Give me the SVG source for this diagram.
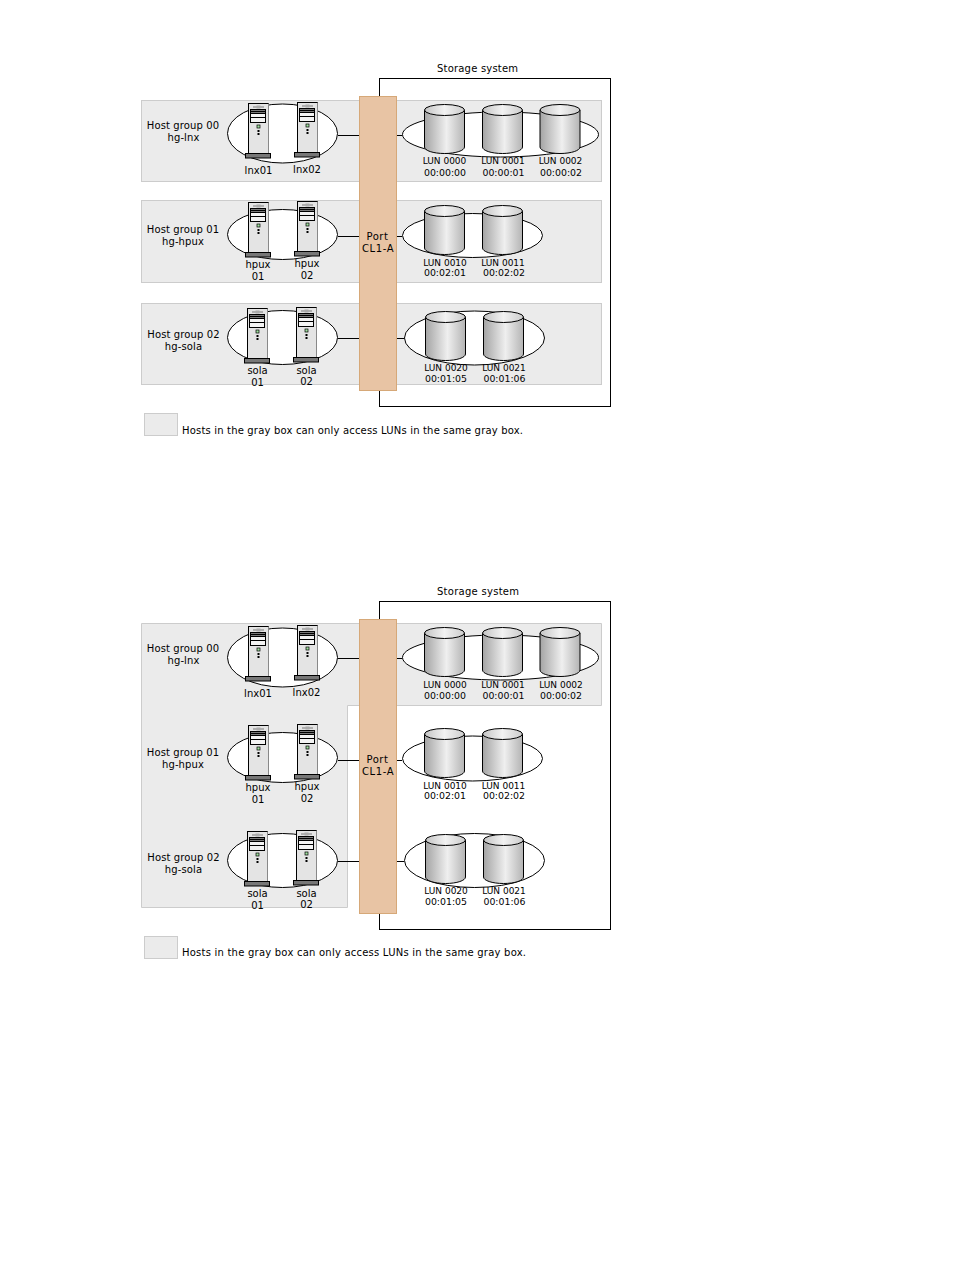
<svg xmlns="http://www.w3.org/2000/svg" width="954" height="1270" viewBox="0 0 954 1270">
<style>
text{font-family:"DejaVu Sans","Liberation Sans",sans-serif;font-size:10px;fill:#000;text-anchor:middle}
.l{text-anchor:start}
.h{letter-spacing:.12px}
.o{letter-spacing:.6px}
.s{font-size:9px}
.t{font-size:9.400px}
.g{fill:#ebebeb;stroke:#ccc;stroke-width:1}
.e{fill:#fff;stroke:#000;stroke-width:1}
.c{stroke:#000;stroke-width:1;fill:none}
.p{fill:#e8c4a4;stroke:#d6a878;stroke-width:1}
.b{fill:#fff;stroke:#000;stroke-width:1}
</style>
<defs>
<linearGradient id="cg" x1="0" x2="1" y1="0" y2="0"><stop offset="0" stop-color="#a4a4a4"/><stop offset=".55" stop-color="#efefef"/><stop offset="1" stop-color="#b4b4b4"/></linearGradient>
<linearGradient id="ct" x1="0" x2="1" y1="0" y2="0"><stop offset="0" stop-color="#c4c4c4"/><stop offset=".5" stop-color="#f2f2f2"/><stop offset="1" stop-color="#cccccc"/></linearGradient>
<symbol id="srv" overflow="visible" width="1" height="1">
<rect x="0.500" y="0.500" width="20" height="50" fill="#e4e4e4" stroke="#000"/>
<path d="M20.500 .5V50.500" stroke="#888" fill="none"/>
<path d="M5 4H16" stroke="#999" stroke-width="1.400"/><path d="M8.500 2.500H12.500V5.500H8.500Z" fill="#aaa"/>
<rect x="2.500" y="6.500" width="15" height="13" fill="#f4f4f4" stroke="#000"/>
<path d="M3 8.500H17" stroke="#000" stroke-width="2"/><path d="M2.500 10.500H17.500M2.500 14.500H17.500" stroke="#000"/>
<rect x="9" y="22" width="3" height="3" fill="#9fdf9f" stroke="#000" stroke-width=".7"/>
<rect x="9.500" y="27" width="2" height="2" fill="#000"/><rect x="9.500" y="30" width="2" height="2" fill="#000"/>
<rect x="-2.500" y="50.500" width="25" height="4.500" fill="#777" stroke="#000"/>
</symbol>
<symbol id="cyl" overflow="visible" width="1" height="1">
<path d="M0.500 6V43C0.500 46.500 9 49.500 20.500 49.500S40.500 46.500 40.500 43V6Z" fill="url(#cg)" stroke="#000"/>
<ellipse cx="20.500" cy="6" rx="20" ry="5.500" fill="url(#ct)" stroke="#000"/>
</symbol>
</defs>

<g id="diagram-1">
<rect class="b" x="379.500" y="78.500" width="231" height="328"/>
<text x="477.500" y="72" textLength="81">Storage system</text>
<rect id="g1a" class="g" x="141.500" y="100.500" width="460" height="81"/>
<rect id="g1b" class="g" x="141.500" y="200.500" width="460" height="82"/>
<rect id="g1c" class="g" x="141.500" y="303.500" width="460" height="81"/>
<g id="connectors-1">
<path class="c" d="M338 135.500H359M397 135.500H402M338 236.500H359M397 236.500H402M338 338.500H359M397 338.500H404"/>
</g>
<g id="hg00"><ellipse class="e" cx="282.500" cy="133.500" rx="55" ry="29.500"/>
<use href="#srv" x="248" y="103"/><use href="#srv" x="297" y="102"/>
<text class="h" x="183" y="129">Host group 00</text><text class="h" x="183.500" y="141">hg-lnx</text>
<text x="258.500" y="174">lnx01</text><text x="307" y="173">lnx02</text></g>
<g id="hg01"><ellipse class="e" cx="282.500" cy="234.500" rx="55" ry="25"/>
<use href="#srv" x="248" y="202"/><use href="#srv" x="297" y="201"/>
<text class="h" x="183" y="233">Host group 01</text><text class="h" x="183" y="245">hg-hpux</text>
<text x="258" y="268">hpux</text><text x="258" y="280">01</text><text x="307" y="267">hpux</text><text x="307" y="279">02</text></g>
<g id="hg02"><ellipse class="e" cx="282.500" cy="337.500" rx="55" ry="27"/>
<use href="#srv" x="247" y="308"/><use href="#srv" x="296" y="307"/>
<text class="h" x="183.500" y="338">Host group 02</text><text class="h" x="183.500" y="350">hg-sola</text>
<text x="257.500" y="374">sola</text><text x="257.500" y="386">01</text><text x="306.500" y="374">sola</text><text x="306.500" y="385">02</text></g>
<g id="port1"><rect class="p" x="359.500" y="96.500" width="37" height="294"/>
<text class="o" x="377.500" y="240">Port</text><text class="o" x="378" y="252">CL1-A</text></g>
<g id="luns10"><ellipse class="e" cx="500.500" cy="134.500" rx="98" ry="22.500"/>
<use href="#cyl" x="424" y="104"/><use href="#cyl" x="482" y="104"/><use href="#cyl" x="539.500" y="104"/>
<text class="s" x="444.500" y="164">LUN 0000</text><text class="t" x="445" y="176">00:00:00</text>
<text class="s" x="503" y="164">LUN 0001</text><text class="t" x="503.500" y="176">00:00:01</text>
<text class="s" x="560.500" y="164">LUN 0002</text><text class="t" x="561" y="176">00:00:02</text></g>
<g id="luns11"><ellipse class="e" cx="472.500" cy="235.500" rx="70" ry="22"/>
<use href="#cyl" x="424" y="205"/><use href="#cyl" x="482" y="205"/>
<text class="s" x="445" y="266">LUN 0010</text><text class="t" x="445" y="276">00:02:01</text>
<text class="s" x="503" y="266">LUN 0011</text><text class="t" x="504" y="276">00:02:02</text></g>
<g id="luns12"><ellipse class="e" cx="474.500" cy="338" rx="70" ry="27"/>
<use href="#cyl" x="425" y="311"/><use href="#cyl" x="483" y="311"/>
<text class="s" x="446" y="371">LUN 0020</text><text class="s" x="504" y="371">LUN 0021</text>
<text class="t" x="446" y="382">00:01:05</text><text class="t" x="504.500" y="382">00:01:06</text></g>
<rect id="key1" class="g" x="144.500" y="413.500" width="33" height="22"/>
<text class="l" x="182" y="434" textLength="341">Hosts in the gray box can only access LUNs in the same gray box.</text>
</g>

<g id="diagram-2">
<rect class="b" x="379.500" y="601.500" width="231" height="328"/>
<text x="478" y="595" textLength="82">Storage system</text>
<polygon id="g2" class="g" points="141.500,623.500 601.500,623.500 601.500,705.500 347.500,705.500 347.500,907.500 141.500,907.500"/>
<g id="connectors-2">
<path class="c" d="M338 658.500H359M397 658.500H402M338 760.500H359M397 760.500H402M338 861.500H359M397 861.500H404"/>
</g>
<g id="hg00b"><ellipse class="e" cx="282.500" cy="657.500" rx="55" ry="29.500"/>
<use href="#srv" x="248" y="626"/><use href="#srv" x="297" y="625"/>
<text class="h" x="183" y="652">Host group 00</text><text class="h" x="183.500" y="664">hg-lnx</text>
<text x="258" y="697">lnx01</text><text x="306.500" y="696">lnx02</text></g>
<g id="hg01b"><ellipse class="e" cx="282.500" cy="757.500" rx="55" ry="25"/>
<use href="#srv" x="248" y="725"/><use href="#srv" x="297" y="724"/>
<text class="h" x="183" y="756">Host group 01</text><text class="h" x="183" y="768">hg-hpux</text>
<text x="258" y="791">hpux</text><text x="258" y="803">01</text><text x="307" y="790">hpux</text><text x="307" y="802">02</text></g>
<g id="hg02b"><ellipse class="e" cx="282.500" cy="860.500" rx="55" ry="27"/>
<use href="#srv" x="247" y="831"/><use href="#srv" x="296" y="830"/>
<text class="h" x="183.500" y="861">Host group 02</text><text class="h" x="183.500" y="873">hg-sola</text>
<text x="257.500" y="897">sola</text><text x="257.500" y="909">01</text><text x="306.500" y="897">sola</text><text x="306.500" y="908">02</text></g>
<g id="port2"><rect class="p" x="359.500" y="619.500" width="37" height="294"/>
<text class="o" x="377.500" y="763">Port</text><text class="o" x="378" y="775">CL1-A</text></g>
<g id="luns20"><ellipse class="e" cx="500.500" cy="657.500" rx="98" ry="22.500"/>
<use href="#cyl" x="424" y="627"/><use href="#cyl" x="482" y="627"/><use href="#cyl" x="539.500" y="627"/>
<text class="s" x="445" y="688">LUN 0000</text><text class="t" x="445" y="699">00:00:00</text>
<text class="s" x="503" y="688">LUN 0001</text><text class="t" x="503.500" y="699">00:00:01</text>
<text class="s" x="561" y="688">LUN 0002</text><text class="t" x="561" y="699">00:00:02</text></g>
<g id="luns21"><ellipse class="e" cx="472.500" cy="758.500" rx="70" ry="22.500"/>
<use href="#cyl" x="424" y="728"/><use href="#cyl" x="482" y="728"/>
<text class="s" x="445" y="789">LUN 0010</text><text class="t" x="445" y="799">00:02:01</text>
<text class="s" x="503.500" y="789">LUN 0011</text><text class="t" x="504" y="799">00:02:02</text></g>
<g id="luns22"><ellipse class="e" cx="474.500" cy="860.500" rx="70" ry="27"/>
<use href="#cyl" x="425" y="834"/><use href="#cyl" x="483" y="834"/>
<text class="s" x="446" y="894">LUN 0020</text><text class="s" x="504" y="894">LUN 0021</text>
<text class="t" x="446" y="905">00:01:05</text><text class="t" x="504.500" y="905">00:01:06</text></g>
<rect id="key2" class="g" x="144.500" y="936.500" width="33" height="22"/>
<text class="l" x="182" y="956" textLength="344">Hosts in the gray box can only access LUNs in the same gray box.</text>
</g>
</svg>
